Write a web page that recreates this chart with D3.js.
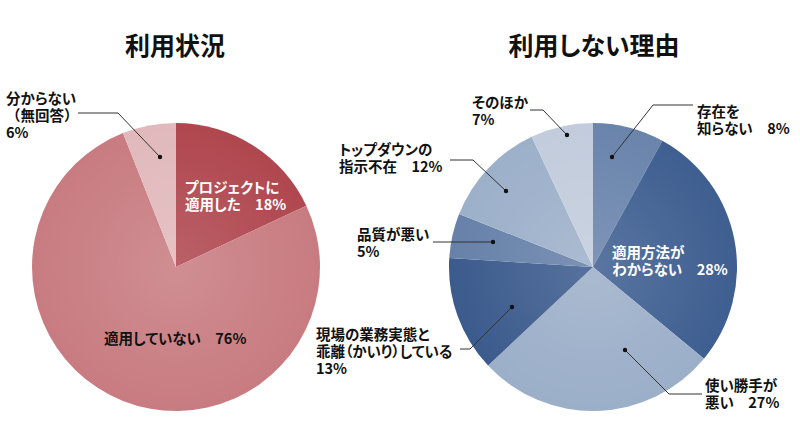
<!DOCTYPE html>
<html>
<head>
<meta charset="utf-8">
<script src="https://cdn.jsdelivr.net/npm/d3@7"></script>
<style>
  body { margin: 0; background: #fff; }
  svg text { font-family: "Noto Sans CJK JP", sans-serif; font-weight: bold; font-feature-settings: "palt"; }
  svg text.full { font-feature-settings: normal; }
</style>
</head>
<body>
<svg id="chart" width="800" height="443"></svg>
<script>
// 利用状況
const useLabels = ['プロジェクトに適用した', '適用していない', '分からない（無回答）']
const useValues = [18, 76, 6]
const useColors = ['#b0474f', '#c87c81', '#e1b9bc']

// 利用しない理由
const reasonLabels = ['存在を知らない', '適用方法がわからない', '使い勝手が悪い', '現場の業務実態と乖離（かいり）している', '品質が悪い', 'トップダウンの指示不在', 'そのほか']
const reasonValues = [8, 28, 27, 13, 5, 12, 7]
const reasonColors = ['#6a84ac', '#3f5f91', '#9cafc9', '#3c5b8d', '#6781a9', '#9db0ca', '#c2ccdc']

const titles = ['利用状況', '利用しない理由']

let svg = d3.select('#chart')
let r = 144

let defs = svg.append('defs')
let grad = defs.append('radialGradient').attr('id', 'shine')
grad.append('stop').attr('offset', '0%').attr('stop-color', '#fff').attr('stop-opacity', 0.14)
grad.append('stop').attr('offset', '75%').attr('stop-color', '#fff').attr('stop-opacity', 0.03)
grad.append('stop').attr('offset', '100%').attr('stop-color', '#fff').attr('stop-opacity', 0)

function drawPie(values, colors, cx, cy) {
  let pie = d3.pie().sort(null)(values)
  let arc = d3.arc().innerRadius(0).outerRadius(r)
  let g = svg.append('g').attr('transform', `translate(${cx},${cy})`)
  g.selectAll('path')
    .data(pie)
    .join('path')
      .attr('d', arc)
      .attr('fill', (d, i) => colors[i])
  g.append('circle').attr('r', r).attr('fill', 'url(#shine)')
  return { pie: pie, g: g }
}

// one text element per line, y = first baseline
function label(lines, x, y, fill) {
  lines.forEach((l, i) => {
    svg.append('text')
      .attr('class', l.indexOf('（無') >= 0 ? 'full' : null)
      .attr('x', x)
      .attr('y', y + i * 17)
      .attr('font-size', 14.5)
      .attr('fill', fill || '#111')
      .text(l)
  })
}

// leader line + dot, pts in page coords
function leader(pts) {
  svg.append('path')
    .attr('d', d3.line()(pts))
    .attr('fill', 'none')
    .attr('stroke', '#333')
    .attr('stroke-width', 1)
  let end = pts[pts.length - 1]
  svg.append('circle').attr('cx', end[0]).attr('cy', end[1]).attr('r', 2.2).attr('fill', '#111')
}

let left = drawPie(useValues, useColors, 176, 267)
let right = drawPie(reasonValues, reasonColors, 593, 267)

svg.selectAll('.title')
  .data(titles)
  .join('text')
    .attr('class', 'title')
    .attr('x', (d, i) => i ? 594 : 175)
    .attr('y', 55)
    .attr('text-anchor', 'middle')
    .attr('font-size', 25)
    .attr('fill', '#111')
    .text(d => d)

// 利用状況 labels
label(['プロジェクトに', '適用した　' + useValues[0] + '%'], 185, 193, '#fff')
label(['適用していない　' + useValues[1] + '%'], 104, 344)
label(['分からない', '（無回答）', useValues[2] + '%'], 6, 104)
leader([[78, 113], [118, 113], [160, 157]])

// 利用しない理由 labels
label(['存在を', '知らない　' + reasonValues[0] + '%'], 697, 117)
leader([[693, 105], [653, 105], [612, 157]])

label(['適用方法が', 'わからない　' + reasonValues[1] + '%'], 612, 258, '#fff')

label(['使い勝手が', '悪い　' + reasonValues[2] + '%'], 705, 391)
leader([[702, 394], [669, 394], [625, 350]])

label(['現場の業務実態と', '乖離（かいり）している', reasonValues[3] + '%'], 316, 340)
leader([[460, 349], [470, 349], [512, 307]])

label(['品質が悪い', reasonValues[4] + '%'], 357, 240)
leader([[433, 242], [493, 242]])

label(['トップダウンの', '指示不在　' + reasonValues[5] + '%'], 339, 155)
leader([[450, 160], [473, 160], [506, 191]])

label(['そのほか', reasonValues[6] + '%'], 472, 108)
leader([[530, 110], [543, 110], [567, 135]])
</script>
</body>
</html>
